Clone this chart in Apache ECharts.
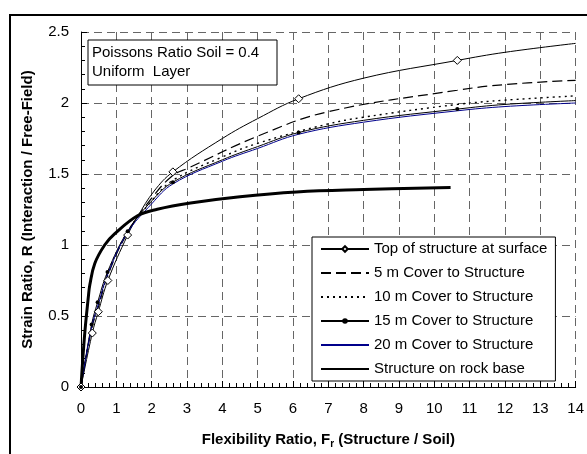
<!DOCTYPE html>
<html>
<head>
<meta charset="utf-8">
<script src="https://cdn.jsdelivr.net/npm/echarts@6/dist/echarts.min.js"></script>
<style>
  html, body { margin: 0; padding: 0; background: #fff; }
  #chart { width: 587px; height: 454px; }
</style>
</head>
<body>
<div id="chart"></div>
<script>
// values, [flexibility ratio, strain ratio]
const surface = [[0,0],[0.32,0.38],[0.49,0.53],[0.76,0.75],[1.32,1.07],[1.6,1.2],[2.07,1.38],[2.6,1.515],[4.0,1.75],[5.0,1.89],[6.16,2.03],[8.0,2.175],[10.65,2.30],[12.0,2.357],[14.0,2.42]];
const surfaceMarked = [0, 1, 2, 3, 4, 7, 10, 12];

const cover5 = [[0,0],[0.3,0.41],[0.5,0.57],[0.75,0.78],[1.3,1.08],[2.0,1.33],[2.6,1.49],[3.04,1.542],[5.0,1.766],[6.95,1.936],[10.65,2.09],[12.0,2.13],[14.0,2.16]];
const cover10 = [[0,0],[0.3,0.42],[0.5,0.58],[0.75,0.795],[1.3,1.085],[2.0,1.31],[2.6,1.455],[4.0,1.62],[5.0,1.716],[6.95,1.85],[8.0,1.9],[10.65,1.99],[12.0,2.02],[14.0,2.05]];
const cover15 = [[0,0],[0.3,0.441],[0.47,0.596],[0.75,0.81],[1.32,1.097],[2.0,1.31],[2.6,1.442],[4.0,1.6],[5.0,1.693],[6.16,1.792],[8.0,1.878],[10.65,1.957],[12.0,1.99],[14.0,2.017]];
const cover15Marked = [0, 1, 2, 3, 4, 6, 9, 11];
const cover20 = [[0,0],[0.3,0.42],[0.5,0.59],[0.75,0.79],[1.3,1.08],[2.0,1.29],[2.6,1.43],[4.0,1.59],[5.0,1.68],[6.16,1.78],[8.0,1.865],[10.65,1.945],[12.0,1.975],[14.0,2.0]];
const rockBase = [[0,0],[0.1,0.36],[0.21,0.64],[0.25,0.72],[0.39,0.87],[0.67,1.0],[0.95,1.078],[1.6,1.206],[2.16,1.252],[3.1,1.296],[4.5,1.34],[6.1,1.373],[8.0,1.39],[10.46,1.405]];

const seriesNames = [
  'Top of structure at surface',
  '5 m Cover to Structure',
  '10 m Cover to Structure',
  '15 m Cover to Structure',
  '20 m Cover to Structure',
  'Structure on rock base',
];
const noteLines = ['Poissons Ratio Soil = 0.4', 'Uniform  Layer'];

const FONT = 'Arial, "Liberation Sans", sans-serif';

// only some points carry a marker in the original
const withMarkers = (pts, marked) =>
  pts.map((p, i) => (marked.includes(i) ? { value: p } : { value: p, symbol: 'none' }));

const base = {
  type: 'line',
  smooth: 0.4,
  animation: false,
  symbol: 'none',
  z: 3,
};

// legend: hide the default circle drawn for series that have no marker
const hasMarker = [true, false, false, true, false, false];
const legendData = seriesNames.map((name, i) =>
  hasMarker[i] ? { name } : { name, itemStyle: { opacity: 0 } });

const chart = echarts.init(document.getElementById('chart'));

chart.setOption({
  animation: false,
  textStyle: { fontFamily: FONT },
  grid: { left: 81, top: 32, right: 4, bottom: 62 },
  xAxis: {
    type: 'value',
    min: 0,
    max: 14,
    interval: 1,
    name: '{b|Flexibility Ratio, F}{s|r}{b| (Structure / Soil)}',
    nameLocation: 'middle',
    nameGap: 44,
    nameTextStyle: {
      rich: {
        b: { fontSize: 15, fontWeight: 'bold', color: '#000', fontFamily: FONT },
        s: { fontSize: 10, fontWeight: 'bold', color: '#000', fontFamily: FONT, padding: [8, 0, 0, 0] },
      },
    },
    axisLine: { lineStyle: { color: '#000', width: 1 } },
    axisTick: { inside: true, length: 6, lineStyle: { color: '#000' } },
    minorTick: { show: true, splitNumber: 5, length: 4, lineStyle: { color: '#000' } },
    axisLabel: { color: '#000', fontSize: 15, margin: 14, fontFamily: FONT },
    splitLine: { show: true, lineStyle: { color: '#666', type: [8, 5], width: 1 } },
  },
  yAxis: {
    type: 'value',
    min: 0,
    max: 2.5,
    interval: 0.5,
    name: 'Strain Ratio, R (Interaction / Free-Field)',
    nameLocation: 'middle',
    nameGap: 46,
    nameTextStyle: { fontSize: 15, fontWeight: 'bold', color: '#000', fontFamily: FONT },
    axisLine: { show: true, lineStyle: { color: '#000', width: 1 } },
    axisTick: { inside: true, length: 6, lineStyle: { color: '#000' } },
    minorTick: { show: true, splitNumber: 5, length: 4, lineStyle: { color: '#000' } },
    axisLabel: { color: '#000', fontSize: 15, margin: 12, fontFamily: FONT },
    splitLine: { show: true, lineStyle: { color: '#666', type: [8, 5], width: 1 } },
  },
  legend: {
    orient: 'vertical',
    left: 312,
    top: 237,
    data: legendData,
    backgroundColor: '#fff',
    borderColor: '#000',
    borderWidth: 1,
    borderRadius: 0,
    padding: [4, 8, 4, 8],
    itemWidth: 48,
    itemHeight: 7,
    itemGap: 8,
    textStyle: { fontSize: 15, color: '#000', lineHeight: 16, fontFamily: FONT },
  },
  graphic: [
    {
      type: 'rect',
      shape: { x: 10, y: 15, width: 700, height: 600 },
      style: { fill: 'none', stroke: '#000', lineWidth: 2 },
      silent: true,
      z: 0,
    },
    {
      type: 'rect',
      shape: { x: 88, y: 40, width: 189, height: 45 },
      style: { fill: '#fff', stroke: '#000', lineWidth: 1 },
      z: 10,
    },
    {
      type: 'text',
      left: 92,
      top: 43,
      style: {
        text: noteLines.join('\n'),
        font: '15px ' + FONT,
        fill: '#000',
        lineHeight: 19,
      },
      z: 11,
    },
  ],
  series: [
    {
      ...base,
      name: seriesNames[0],
      data: withMarkers(surface, surfaceMarked),
      symbol: 'diamond',
      symbolSize: 8,
      showAllSymbol: true,
      lineStyle: { color: '#000', width: 1 },
      itemStyle: { color: '#fff', borderColor: '#000', borderWidth: 1 },
    },
    {
      ...base,
      name: seriesNames[1],
      data: cover5,
      lineStyle: { color: '#000', width: 1.2, type: [10, 5] },
      itemStyle: { color: '#000' },
    },
    {
      ...base,
      name: seriesNames[2],
      data: cover10,
      lineStyle: { color: '#000', width: 1.4, type: [2, 4] },
      itemStyle: { color: '#000' },
    },
    {
      ...base,
      name: seriesNames[3],
      data: withMarkers(cover15, cover15Marked),
      symbol: 'circle',
      symbolSize: 4,
      showAllSymbol: true,
      lineStyle: { color: '#000', width: 1 },
      itemStyle: { color: '#000' },
    },
    {
      ...base,
      name: seriesNames[4],
      data: cover20,
      lineStyle: { color: '#00008b', width: 1 },
      itemStyle: { color: '#00008b' },
    },
    {
      ...base,
      name: seriesNames[5],
      data: rockBase,
      lineStyle: { color: '#000', width: 3 },
      itemStyle: { color: '#000' },
    },
  ],
});
</script>
</body>
</html>
